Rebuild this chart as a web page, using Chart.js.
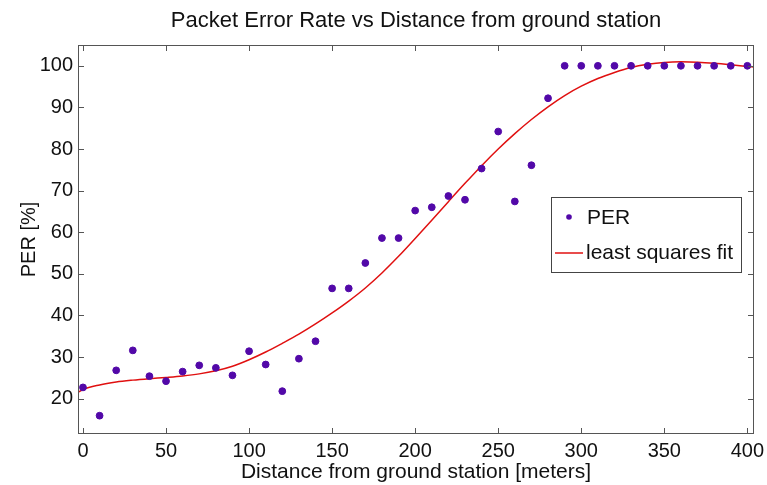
<!DOCTYPE html>
<html>
<head>
<meta charset="utf-8">
<script src="https://cdn.jsdelivr.net/npm/chart.js@4"></script>
<style>
  html, body { margin: 0; padding: 0; background: #fff; }
  #wrap { width: 767px; height: 485px; }
</style>
</head>
<body>
<div id="wrap"><canvas id="myChart" width="767" height="485"></canvas></div>
<script>
// measured PER points, one every 10 m
const distance = [0, 10, 20, 30, 40, 50, 60, 70, 80, 90, 100, 110, 120, 130, 140, 150, 160, 170, 180, 190, 200,
  210, 220, 230, 240, 250, 260, 270, 280, 290, 300, 310, 320, 330, 340, 350, 360, 370, 380, 390, 400];
const perValues = [22.7, 15.9, 26.8, 31.6, 25.4, 24.2, 26.5, 28.0, 27.4, 25.6, 31.4, 28.2, 21.8, 29.6, 33.8, 46.5,
  46.5, 52.6, 58.6, 58.6, 65.2, 66.0, 68.7, 67.8, 75.3, 84.2, 67.4, 76.1, 92.2, 100, 100, 100, 100, 100, 100, 100,
  100, 100, 100, 100, 100];

// least squares fit curve
const fitX = [-3, 0, 10, 20, 30, 40, 50, 60, 70, 80, 90, 100, 110, 120, 130, 140, 150, 160, 170, 180, 190, 200,
  210, 220, 230, 240, 250, 260, 270, 280, 290, 300, 310, 320, 330, 340, 350, 360, 370, 380, 390, 400, 404];
const fitY = [21.5, 22.2, 23.3, 24.0, 24.45, 24.8, 25.1, 25.45, 25.95, 26.7, 27.8, 29.35, 31.2, 33.3, 35.5, 37.95,
  40.6, 43.45, 46.6, 50.2, 54.2, 58.5, 62.9, 67.35, 71.75, 76.0, 80.0, 83.7, 87.1, 90.15, 92.85, 95.1, 96.95, 98.4,
  99.6, 100.35, 100.8, 100.95, 100.85, 100.6, 100.25, 99.85, 99.7];

const xTicks = [0, 50, 100, 150, 200, 250, 300, 350, 400];
const yTicks = [20, 30, 40, 50, 60, 70, 80, 90, 100];

const dotColor = '#5208a8';
const fitColor = '#e01010';
const fontFamily = '"Liberation Sans", Arial, sans-serif';

// matlab style frame: box all round, ticks pointing inwards, legend inside
const framePlugin = {
  id: 'frame',
  afterDraw(chart) {
    const ctx = chart.ctx;
    const a = chart.chartArea;
    const xs = chart.scales.x, ys = chart.scales.y;
    ctx.save();
    ctx.strokeStyle = '#555';
    ctx.lineWidth = 1;
    ctx.strokeRect(a.left + 0.5, a.top + 0.5, a.right - a.left - 1, a.bottom - a.top - 1);
    ctx.beginPath();
    xTicks.forEach(v => {
      const px = Math.round(xs.getPixelForValue(v)) + 0.5;
      ctx.moveTo(px, a.bottom); ctx.lineTo(px, a.bottom - 6);
      ctx.moveTo(px, a.top); ctx.lineTo(px, a.top + 6);
    });
    yTicks.forEach(v => {
      const py = Math.round(ys.getPixelForValue(v)) + 0.5;
      ctx.moveTo(a.left, py); ctx.lineTo(a.left + 6, py);
      ctx.moveTo(a.right, py); ctx.lineTo(a.right - 6, py);
    });
    ctx.stroke();

    // legend box
    const bx = a.right - 203, by = a.top + 152, bw = 190, bh = 75;
    ctx.fillStyle = '#fff';
    ctx.fillRect(bx, by, bw, bh);
    ctx.strokeStyle = '#444';
    ctx.strokeRect(bx + 0.5, by + 0.5, bw, bh);
    ctx.fillStyle = dotColor;
    ctx.beginPath();
    ctx.arc(bx + 18, by + 20, 2.8, 0, Math.PI * 2);
    ctx.fill();
    ctx.strokeStyle = fitColor;
    ctx.lineWidth = 1.5;
    ctx.beginPath();
    ctx.moveTo(bx + 4, by + 56); ctx.lineTo(bx + 32, by + 56);
    ctx.stroke();
    ctx.fillStyle = '#111';
    ctx.font = '21px ' + fontFamily;
    ctx.textBaseline = 'middle';
    ctx.fillText('PER', bx + 36, by + 21);
    ctx.fillText('least squares fit', bx + 35, by + 56);
    ctx.restore();
  }
};

new Chart(document.getElementById('myChart'), {
  type: 'scatter',
  data: {
    datasets: [{
      label: 'PER',
      data: distance.map((d, i) => ({ x: d, y: perValues[i] })),
      backgroundColor: dotColor,
      borderColor: dotColor,
      pointRadius: 3.4,
      pointHoverRadius: 3.4,
      order: 1
    }, {
      label: 'least squares fit',
      type: 'line',
      data: fitX.map((d, i) => ({ x: d, y: fitY[i] })),
      borderColor: fitColor,
      borderWidth: 1.5,
      pointRadius: 0,
      cubicInterpolationMode: 'monotone',
      fill: false,
      order: 2
    }]
  },
  options: {
    responsive: false,
    animation: false,
    layout: { padding: { left: 0, right: 13, top: 0, bottom: 0 } },
    plugins: {
      legend: { display: false },
      tooltip: { enabled: false },
      title: {
        display: true,
        fullSize: false,
        text: 'Packet Error Rate vs Distance from ground station',
        color: '#111',
        font: { family: fontFamily, size: 22, weight: 'normal' },
        padding: { top: 8, bottom: 10.6 }
      }
    },
    scales: {
      x: {
        type: 'linear',
        min: -3,
        max: 404,
        grid: { display: false, drawTicks: false },
        border: { display: false },
        afterBuildTicks: s => { s.ticks = xTicks.map(v => ({ value: v })); },
        afterFit: s => { s.height = 51; s.paddingLeft = 0; s.paddingRight = 0; },
        ticks: { color: '#111', padding: 5, maxRotation: 0, font: { family: fontFamily, size: 20 } },
        title: {
          display: true,
          text: 'Distance from ground station [meters]',
          color: '#111',
          padding: { top: 1.5, bottom: 0 },
          font: { family: fontFamily, size: 21 }
        }
      },
      y: {
        min: 11.5,
        max: 105,
        grid: { display: false, drawTicks: false },
        border: { display: false },
        afterBuildTicks: s => { s.ticks = yTicks.map(v => ({ value: v })); },
        afterFit: s => { s.width = 78; s.paddingTop = 0; s.paddingBottom = 0; },
        ticks: { color: '#111', padding: 5, font: { family: fontFamily, size: 20 } },
        title: {
          display: true,
          text: 'PER [%]',
          color: '#111',
          padding: { top: 17, bottom: 0 },
          font: { family: fontFamily, size: 20 }
        }
      }
    }
  },
  plugins: [framePlugin]
});
</script>
</body>
</html>
